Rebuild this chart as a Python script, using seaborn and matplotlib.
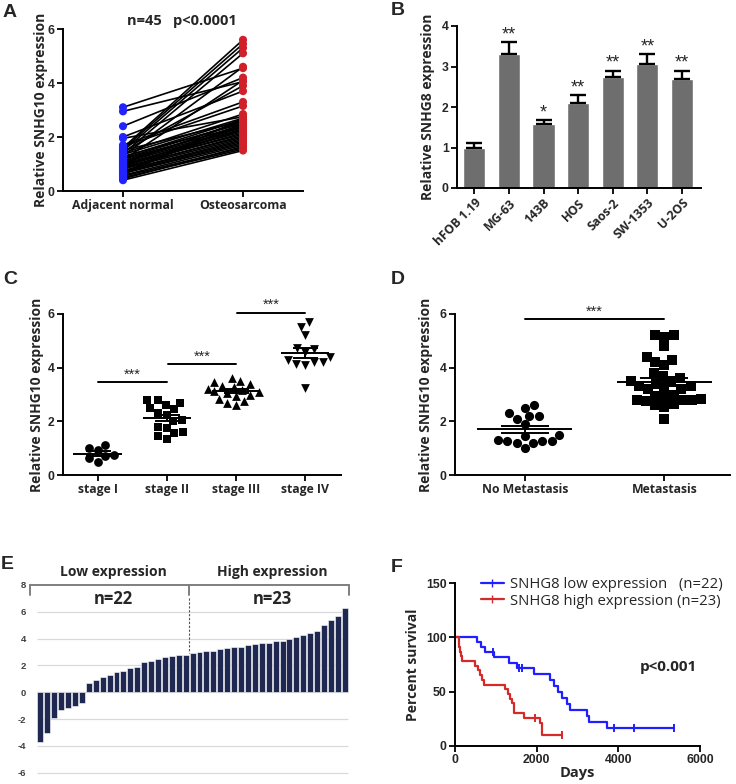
import numpy as np
import pandas as pd
import matplotlib
matplotlib.use("Agg")
import matplotlib.pyplot as plt
import seaborn as sns
from matplotlib.lines import Line2D

# ---- data ----
# A: paired samples
normal = [3.10, 2.95, 2.40, 2.00, 1.95, 1.70, 1.65, 1.60, 1.55, 1.50, 1.48, 1.45, 1.40, 1.38, 1.35,
          1.30, 1.28, 1.25, 1.20, 1.18, 1.15, 1.12, 1.10, 1.05, 1.02, 1.00, 0.98, 0.95, 0.92, 0.90,
          0.88, 0.85, 0.82, 0.80, 0.75, 0.72, 0.70, 0.68, 0.65, 0.60, 0.58, 0.55, 0.50, 0.45, 0.40]
tumor = [4.55, 4.05, 4.20, 3.70, 2.75, 3.30, 3.15, 5.60, 5.45, 2.60, 5.30, 3.90, 2.85, 5.10, 2.70,
         4.60, 2.50, 2.65, 2.55, 2.40, 4.10, 2.45, 2.35, 2.30, 2.60, 2.20, 2.25, 2.10, 2.15, 2.40,
         2.00, 2.05, 1.95, 2.30, 1.90, 1.85, 2.50, 1.80, 1.75, 2.70, 1.70, 1.60, 1.55, 1.65, 1.50]

# B: cell lines
cells = ["hFOB 1.19", "MG-63", "143B", "HOS", "Saos-2", "SW-1353", "U-2OS"]
cell_expr = [1.00, 3.30, 1.57, 2.10, 2.75, 3.05, 2.68]
cell_err = [0.10, 0.30, 0.10, 0.20, 0.15, 0.25, 0.22]
cell_sig = ["", "**", "*", "**", "**", "**", "**"]

# C: clinical stage
stages = ["stage I", "stage II", "stage III", "stage IV"]
stage1 = [1.10, 1.00, 0.92, 0.76, 0.69, 0.63, 0.48]
stage2 = [2.80, 2.78, 2.70, 2.60, 2.50, 2.45, 2.30, 2.25, 2.05, 2.00, 1.80, 1.75, 1.60, 1.55, 1.45, 1.35]
stage3 = [3.62, 3.50, 3.45, 3.38, 3.32, 3.28, 3.22, 3.18, 3.12, 3.08, 3.05, 3.00, 2.95, 2.85, 2.75, 2.68, 2.62]
stage4 = [5.70, 5.50, 5.20, 4.75, 4.70, 4.60, 4.40, 4.30, 4.20, 4.20, 4.15, 4.10, 3.25]

# D: metastasis
meta_groups = ["No Metastasis", "Metastasis"]
no_meta = [2.60, 2.50, 2.30, 2.20, 2.20, 2.10, 1.90, 1.50, 1.45, 1.30, 1.28, 1.27, 1.25, 1.20, 1.20, 1.00]
meta = [5.20, 5.15, 5.20, 4.80, 4.40, 4.30, 4.20, 4.10, 3.80, 3.70, 3.60, 3.50, 3.50, 3.40, 3.30,
        3.30, 3.25, 3.20, 3.20, 3.00, 2.95, 2.90, 2.85, 2.80, 2.80, 2.80, 2.75, 2.65, 2.60, 2.55, 2.10]

# E: sorted expression of 45 patients
ranked = [-3.75, -3.05, -1.95, -1.30, -1.20, -1.05, -0.80, 0.65, 0.90, 1.10, 1.30, 1.50, 1.60, 1.80, 1.90,
          2.25, 2.30, 2.50, 2.60, 2.70, 2.75, 2.80, 2.90, 3.00, 3.05, 3.10, 3.20, 3.30, 3.35, 3.40,
          3.55, 3.60, 3.70, 3.70, 3.80, 3.85, 4.00, 4.10, 4.30, 4.45, 4.60, 5.00, 5.40, 5.70, 6.25]

# F: survival (days, 1 = death, 0 = censored)
low_days = [539, 637, 743, 931, 963, 1314, 1518, 1559, 1641, 1927, 2335, 2416, 2522, 2620, 2743,
            2824, 3233, 3273, 3722, 3886, 4376, 5355]
low_event = [1, 1, 1, 0, 1, 1, 1, 0, 0, 1, 1, 1, 1, 1, 1, 1, 1, 1, 1, 0, 0, 0]
high_days = [90, 110, 130, 150, 165, 482, 563, 620, 661, 702, 1233, 1300, 1355, 1396, 1437, 1437,
             1682, 1967, 2090, 2130, 2130, 2626, 2626]
high_event = [1, 1, 1, 1, 1, 1, 1, 1, 1, 1, 1, 1, 1, 1, 1, 1, 1, 0, 1, 1, 1, 0, 0]


def km(days, events):
    d = np.array(days)
    e = np.array(events)
    at_risk = len(d)
    s = 100.0
    xs, ys, cx, cy = [0], [100.0], [], []
    for t in np.unique(d):
        deaths = int(((d == t) & (e == 1)).sum())
        cens = int(((d == t) & (e == 0)).sum())
        if deaths:
            s *= (at_risk - deaths) / at_risk
        xs.append(t)
        ys.append(s)
        if cens:
            cx.append(t)
            cy.append(s)
        at_risk -= deaths + cens
    return xs, ys, cx, cy


sns.set_style("ticks")
plt.rcParams["font.family"] = ["Open Sans", "DejaVu Sans"]
plt.rcParams["axes.unicode_minus"] = False

fig = plt.figure(figsize=(7.36, 7.84), dpi=100)


def box(x0, y0, x1, y1):
    return [x0 / 736, 1 - y1 / 784, (x1 - x0) / 736, (y1 - y0) / 784]


def style(ax):
    sns.despine(ax=ax)
    for sp in ["left", "bottom"]:
        ax.spines[sp].set_linewidth(1.4)
        ax.spines[sp].set_color("black")
    ax.tick_params(width=1.3, length=4, color="black", labelsize=8.8, pad=2)
    for lbl in ax.get_yticklabels():
        lbl.set_fontfamily("Liberation Sans")
        lbl.set_fontweight("bold")


def ylab(ax, text, pad, size=10):
    ax.set_ylabel(text, fontsize=size, fontweight="bold", labelpad=pad)


def letter(x, y, s):
    fig.text(x / 736, 1 - y / 784, s, fontsize=14, fontweight="bold",
             family="Liberation Sans", va="top", ha="left")


# ---- A ----
axA = fig.add_axes(box(63, 29, 303, 191))
dfA = pd.DataFrame({
    "pair": np.tile(np.arange(len(normal)), 2),
    "pos": np.repeat([0, 1], len(normal)),
    "value": normal + tumor,
    "group": ["Adjacent normal"] * len(normal) + ["Osteosarcoma"] * len(tumor),
})
sns.lineplot(data=dfA, x="pos", y="value", units="pair", estimator=None, color="black",
             lw=1.2, ax=axA, legend=False)
sns.scatterplot(data=dfA, x="pos", y="value", hue="group",
                palette={"Adjacent normal": "#2323ff", "Osteosarcoma": "#d0202a"},
                s=34, edgecolor="none", legend=False, ax=axA, zorder=3)
axA.set_xlim(-0.5, 1.5)
axA.set_ylim(0, 6)
axA.set_yticks([0, 2, 4, 6])
axA.set_xticks([0, 1], ["Adjacent normal", "Osteosarcoma"], fontsize=10.5, fontweight="bold")
axA.set_xlabel("")
style(axA)
ylab(axA, "Relative SNHG10 expression", 0)
axA.text(0.496, 1.05, "n=45   p<0.0001", transform=axA.transAxes, ha="center", va="center",
         fontsize=10.5, fontweight="bold")
letter(3, 4, "A")

# ---- B ----
axB = fig.add_axes(box(457, 26, 701, 188))
sns.barplot(x=cells, y=cell_expr, color="#6e6e6e", width=0.64, saturation=1, ax=axB)
axB.errorbar(range(len(cells)), cell_expr, yerr=[np.zeros(len(cells)), cell_err], fmt="none",
             ecolor="black", elinewidth=1.7, capsize=5.5, capthick=1.7, zorder=3)
for i, (v, e, s) in enumerate(zip(cell_expr, cell_err, cell_sig)):
    axB.text(i, v + e - 0.03, s, ha="center", va="bottom", fontsize=13, family="Liberation Sans")
axB.set_xlim(-0.5, 6.55)
axB.set_ylim(0, 4)
axB.set_yticks([0, 1, 2, 3, 4])
axB.set_xticks(range(len(cells)), cells, rotation=45, ha="right", rotation_mode="anchor",
               fontsize=10.5, fontweight="bold")
style(axB)
ylab(axB, "Relative SNHG8 expression", 5)
letter(391, 2, "B")

# ---- C ----
axC = fig.add_axes(box(63, 314, 341, 475))
dfC = pd.DataFrame({
    "stage": [stages[0]] * len(stage1) + [stages[1]] * len(stage2) + [stages[2]] * len(stage3)
    + [stages[3]] * len(stage4),
    "value": stage1 + stage2 + stage3 + stage4,
})
for st, mk in zip(stages, ["o", "s", "^", "v"]):
    sns.swarmplot(data=dfC[dfC.stage == st], x="stage", y="value", order=stages, marker=mk,
                  color="black", size=6.3, ax=axC)
for i, st in enumerate(stages):
    v = dfC.loc[dfC.stage == st, "value"]
    m = v.mean()
    se = v.std() / np.sqrt(len(v))
    axC.hlines(m, i - 0.35, i + 0.35, color="black", lw=1.4, zorder=4)
    axC.errorbar(i, m, yerr=se, fmt="none", ecolor="black", elinewidth=1.4, capsize=9,
                 capthick=1.4, zorder=4)
for (a, b, y) in [(0.0, 1.0, 3.45), (1.02, 2.0, 4.13), (2.02, 3.0, 6.05)]:
    axC.plot([a, b], [y, y], color="black", lw=1.4, clip_on=False)
    axC.text((a + b) / 2, y + 0.02, "***", ha="center", va="bottom", fontsize=10.5,
             family="Liberation Sans", clip_on=False)
axC.set_xlim(-0.5, 3.52)
axC.set_ylim(0, 6)
axC.set_yticks([0, 2, 4, 6])
axC.set_xticks(range(4), stages, fontsize=12, fontweight="bold")
axC.set_xlabel("")
axC.set_ylabel("")
style(axC)
ylab(axC, "Relative SNHG10 expression", 3)
letter(3, 271, "C")

# ---- D ----
axD = fig.add_axes(box(455, 314, 730, 475))
dfD = pd.DataFrame({
    "group": [meta_groups[0]] * len(no_meta) + [meta_groups[1]] * len(meta),
    "value": no_meta + meta,
})
for g, mk in zip(meta_groups, ["o", "s"]):
    sns.swarmplot(data=dfD[dfD.group == g], x="group", y="value", order=meta_groups, marker=mk,
                  color="black", size=6.6, ax=axD)
for i, g in enumerate(meta_groups):
    v = dfD.loc[dfD.group == g, "value"]
    m = v.mean()
    se = v.std() / np.sqrt(len(v))
    axD.hlines(m, i - 0.34, i + 0.34, color="black", lw=1.4, zorder=4)
    axD.errorbar(i, m, yerr=se, fmt="none", ecolor="black", elinewidth=1.4, capsize=17,
                 capthick=1.4, zorder=4)
axD.plot([0.0, 1.0], [5.8, 5.8], color="black", lw=1.4)
axD.text(0.5, 5.82, "***", ha="center", va="bottom", fontsize=10.5, family="Liberation Sans")
axD.set_xlim(-0.5, 1.47)
axD.set_ylim(0, 6)
axD.set_yticks([0, 2, 4, 6])
axD.set_xticks(range(2), meta_groups, fontsize=12.5, fontweight="bold")
axD.set_xlabel("")
axD.set_ylabel("")
style(axD)
ylab(axD, "Relative SNHG10 expression", 5)
letter(391, 271, "D")

# ---- E ----
axE = fig.add_axes(box(30, 580, 350, 780))
axE.hlines([-6, -4, -2, 0, 2, 4, 6], -0.5, len(ranked) - 0.5, color="#d9d9d9", lw=0.9, zorder=0)
sns.barplot(x=list(range(len(ranked))), y=ranked, color="#1f2850", width=0.86, saturation=1,
            edgecolor="white", linewidth=0.4, ax=axE, zorder=2)
axE.set_xlim(-1.5, 44.75)
axE.set_ylim(-6.55, 8.37)
axE.set_yticks(range(-6, 9, 2))
axE.set_xticks([])
for sp in axE.spines.values():
    sp.set_visible(False)
axE.tick_params(axis="y", length=0, labelsize=6.8, labelcolor="#404040", pad=3)
for lbl in axE.get_yticklabels():
    lbl.set_fontfamily("Liberation Sans")
    lbl.set_fontweight("bold")
split = 21.5
axE.plot([-1.5, 44.55], [8, 8], color="#7f7f7f", lw=1.4, clip_on=False)
for xv in [-1.5, split, 44.55]:
    axE.plot([xv, xv], [8, 7.25], color="#7f7f7f", lw=1.4, clip_on=False)
axE.plot([split, split], [7.0, ranked[22]], color="#505050", lw=0.8, ls=(0, (2, 1.5)))
axE.text(10.5, 8.95, "Low expression", ha="center", va="center", fontsize=10, fontweight="bold")
axE.text(33.5, 8.95, "High expression", ha="center", va="center", fontsize=10, fontweight="bold")
axE.text(10.5, 6.95, "n=22", ha="center", va="center", fontsize=12, fontweight="bold")
axE.text(33.5, 6.95, "n=23", ha="center", va="center", fontsize=12, fontweight="bold")
letter(1, 556, "E")

# ---- F ----
axF = fig.add_axes(box(455, 583, 700, 746))
for days, ev, col in [(low_days, low_event, "#1f1fff"), (high_days, high_event, "#d42a2a")]:
    xs, ys, cx, cy = km(days, ev)
    sns.lineplot(x=xs, y=ys, drawstyle="steps-post", color=col, lw=1.6, ax=axF,
                 estimator=None, sort=False)
    axF.scatter(cx, cy, marker="|", s=34, color=col, linewidths=1.4, zorder=3)
axF.set_xlim(0, 6000)
axF.set_ylim(0, 150)
axF.set_xticks([0, 2000, 4000, 6000])
axF.set_yticks([0, 50, 100, 150])
style(axF)
for lbl in axF.get_xticklabels():
    lbl.set_fontfamily("Liberation Sans")
    lbl.set_fontweight("bold")
axF.set_xlabel("Days", fontsize=10.5, fontweight="bold", labelpad=0)
ylab(axF, "Percent survival", 4, size=10)
handles = [Line2D([], [], color="#1f1fff", lw=1.6, marker="|", markersize=6),
           Line2D([], [], color="#d42a2a", lw=1.6, marker="|", markersize=6)]
axF.legend(handles, ["SNHG8 low expression   (n=22)", "SNHG8 high expression (n=23)"],
           loc="upper left", bbox_to_anchor=(0.08, 1.075), frameon=False, fontsize=10.7,
           handlelength=1.6, handletextpad=0.35, labelspacing=0.12, borderaxespad=0, numpoints=1)
axF.text(5216, 72.7, "p<0.001", ha="center", va="center", fontsize=11, fontweight="bold")
letter(391, 559, "F")

fig.savefig("out.png", dpi=100)
